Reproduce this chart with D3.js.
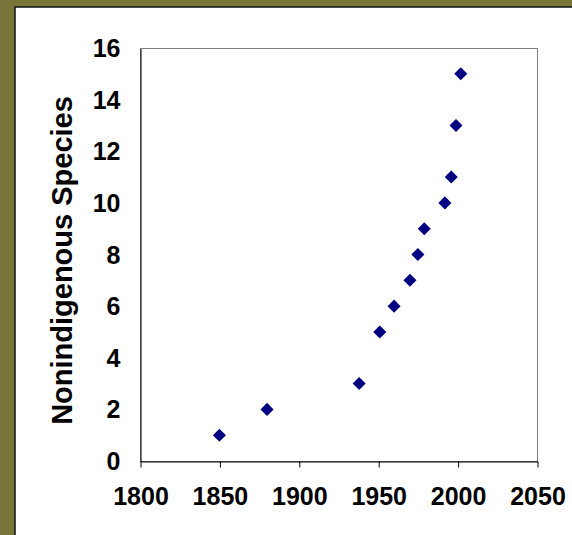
<!DOCTYPE html>
<html><head><meta charset="utf-8">
<script src="https://cdn.jsdelivr.net/npm/d3@7"></script>
<style>html,body{margin:0;padding:0;background:#78743a;}svg{display:block;}</style>
</head><body>
<svg id="chart" width="572" height="535"></svg>
<script>
const years = [1850, 1880, 1938, 1951, 1960, 1970, 1975, 1979, 1992, 1996, 1999, 2002];
const species = [1, 2, 3, 5, 6, 7, 8, 9, 10, 11, 13, 15];
const xTicks = [1800, 1850, 1900, 1950, 2000, 2050];
const yTicks = [0, 2, 4, 6, 8, 10, 12, 14, 16];
const yTitle = "Nonindigenous Species";

const svg = d3.select("#chart");
svg.append("rect").attr("x", 0).attr("y", 0).attr("width", 572).attr("height", 535).attr("fill", "#78743a");
svg.append("rect").attr("x", 15).attr("y", 7).attr("width", 560).attr("height", 530)
  .attr("fill", "#fff").attr("stroke", "#111").attr("stroke-width", 1.5);

const L = 140, R = 537, T = 48, B = 461;
const x = d3.scaleLinear().domain([1800, 2050]).range([L, R]);
const y = d3.scaleLinear().domain([0, 16]).range([B, T]);

svg.append("rect").attr("x", L + 0.5).attr("y", T + 0.5).attr("width", R - L).attr("height", B - T)
  .attr("fill", "none").attr("stroke", "#808080").attr("stroke-width", 1);

const font = "Arial, 'Liberation Sans', sans-serif";

const xAxis = svg.append("g").attr("transform", `translate(0.5,${B + 0.5})`)
  .call(d3.axisBottom(x).tickValues(xTicks).tickFormat(d3.format("d")).tickSizeInner(6).tickSizeOuter(0).tickPadding(20));
xAxis.select(".domain").attr("stroke", "#000");
xAxis.selectAll(".tick line").attr("stroke", "#000");
xAxis.selectAll("text").attr("font-family", font).attr("font-weight", "bold").attr("font-size", 25).attr("fill", "#000");

const yAxis = svg.append("g").attr("transform", `translate(${L + 0.5},0.5)`)
  .call(d3.axisLeft(y).tickValues(yTicks).tickSize(0).tickPadding(20));
yAxis.select(".domain").attr("stroke", "#000");
yAxis.selectAll("text").attr("font-family", font).attr("font-weight", "bold").attr("font-size", 25).attr("fill", "#000");

svg.append("text")
  .attr("transform", `translate(72,${(T + B) / 2 + 6}) rotate(-90)`)
  .attr("text-anchor", "middle")
  .attr("font-family", font).attr("font-weight", "bold").attr("font-size", 29)
  .text(yTitle);

const pts = years.map((yr, i) => ({ yr, v: species[i] }));
svg.append("g").selectAll("path").data(pts).enter().append("path")
  .attr("d", d3.symbol().type(d3.symbolSquare).size(85))
  .attr("transform", d => `translate(${x(d.yr)},${y(d.v)}) rotate(45)`)
  .attr("fill", "#000080");
</script>
</body></html>
